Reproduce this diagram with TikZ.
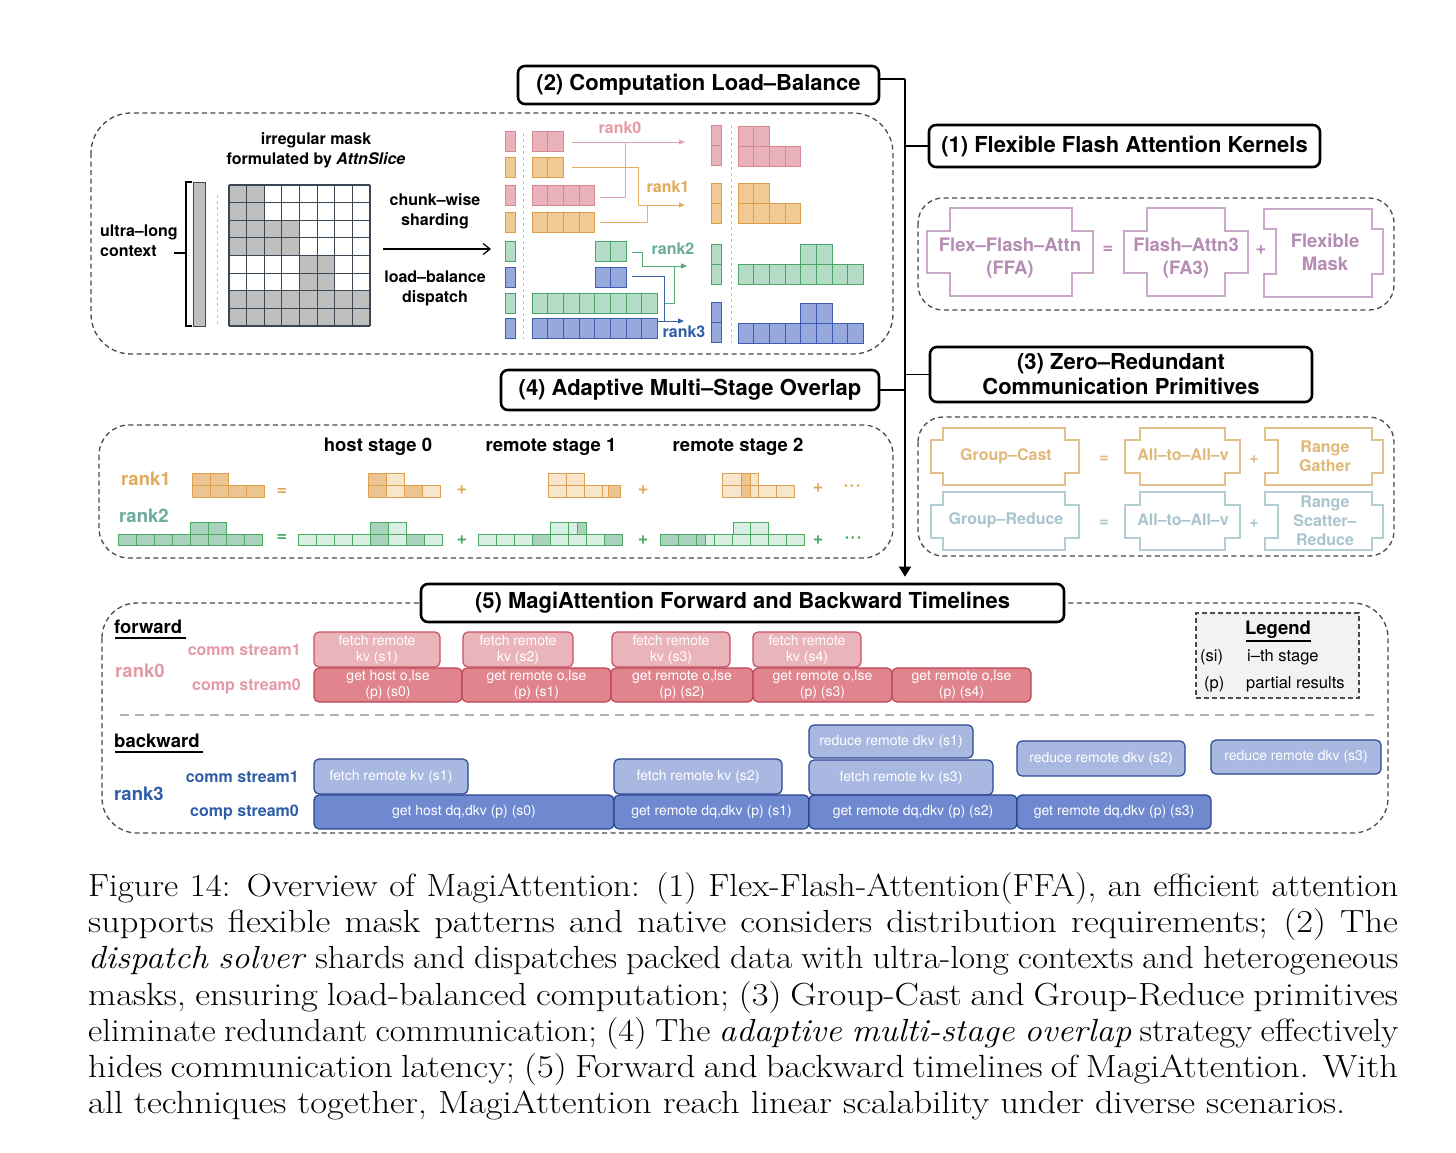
\documentclass[tikz,border=0pt]{standalone}
\usepackage{fontspec}
\usepackage{graphicx}
\newfontfamily\hv{TeX Gyre Heros}
\usetikzlibrary{arrows.meta,calc}
\newcommand{\fsz}[2]{\fontsize{#1}{#2}\selectfont}
\newcommand{\capline}[1]{\scalebox{1.14}[1]{\makebox[1149pt][s]{#1}}}
\newcommand{\caplinen}[1]{\scalebox{1.09}[1]{\makebox[1202pt][s]{#1}}}
\definecolor{panelc}{HTML}{4A4A4A}
\definecolor{pkF}{HTML}{EAB3BB}\definecolor{pkB}{HTML}{D68894}
\definecolor{orF}{HTML}{F0C995}\definecolor{orB}{HTML}{D9A048}
\definecolor{grF}{HTML}{B5DCC6}\definecolor{grB}{HTML}{4BA468}
\definecolor{blF}{HTML}{97A8DC}\definecolor{blB}{HTML}{3F5CB3}
\definecolor{pkT}{HTML}{E39AA5}\definecolor{orT}{HTML}{E3A95A}
\definecolor{tlT}{HTML}{6AAB9B}\definecolor{blT}{HTML}{2F5EA8}
\definecolor{pkA}{HTML}{E2A3AD}\definecolor{orA}{HTML}{E6B063}
\definecolor{grA}{HTML}{5AAA78}\definecolor{blA}{HTML}{3A62A8}
\definecolor{maskg}{HTML}{BFBFBF}\definecolor{gridc}{HTML}{3C4756}
\definecolor{ffaT}{HTML}{B48CB4}\definecolor{ffaB}{HTML}{C9A9C9}
\definecolor{gcT}{HTML}{E0B878}\definecolor{gcB}{HTML}{E2C08C}
\definecolor{grT}{HTML}{A8C4CC}\definecolor{grdB}{HTML}{B4CDD3}
\definecolor{oDk}{HTML}{EBC48F}\definecolor{oLt}{HTML}{F7E6CC}\definecolor{oBd}{HTML}{DCA050}
\definecolor{gDk}{HTML}{A8D2BC}\definecolor{gLt}{HTML}{DAEFE3}\definecolor{gBd}{HTML}{4AAA60}
\definecolor{fcommc}{HTML}{EAB4BB}\definecolor{fcompc}{HTML}{E0848E}
\definecolor{fbord}{HTML}{C7525F}\definecolor{fbord2}{HTML}{BC4655}
\definecolor{bcommc}{HTML}{A9B8E1}\definecolor{bcompc}{HTML}{6F89D0}
\definecolor{bbord}{HTML}{2B4690}
\definecolor{legF}{HTML}{F2F2F2}
\newcommand{\cellrow}[6]{\foreach \ci in {1,...,#3} {\draw[#6] ({#1+(\ci-1)*#4},#2) rectangle ++(#4,#5);}}
\newcommand{\crossshape}[9]{\draw[#1] (#3,#6)--(#4,#6)--(#4,#7)--(#5,#7)--(#5,#8)--(#4,#8)--(#4,#9)--(#3,#9)--(#3,#8)--(#2,#8)--(#2,#7)--(#3,#7)--cycle;}
% style, xl, xnotch, xr, xtab, y1,y2,y3,y4
\newcommand{\tabshape}[9]{\draw[#1] (#2,#6)--(#4,#6)--(#4,#7)--(#5,#7)--(#5,#8)--(#4,#8)--(#4,#9)--(#2,#9)--(#2,#8)--(#3,#8)--(#3,#7)--(#2,#7)--cycle;}
\begin{document}
\begin{tikzpicture}[x=1pt,y=-1pt,font=\hv,
  panel/.style={draw=panelc,line width=1.3pt,dash pattern=on 5pt off 3.5pt},
  hdr/.style={draw=black,line width=2.6pt,rounded corners=7pt,fill=white,font=\hv\bfseries\fsz{22}{25},align=center,inner sep=0pt},
  conn/.style={draw=black,line width=1.6pt},
  lbl/.style={font=\hv\bfseries\fsz{16}{20},align=center,inner sep=0pt},
  pkC/.style={draw=pkB,fill=pkF,line width=1pt},
  orC/.style={draw=orB,fill=orF,line width=1pt},
  grC/.style={draw=grB,fill=grF,line width=1pt},
  blC/.style={draw=blB,fill=blF,line width=1pt},
  arrw/.style={line width=1pt,-{Triangle[length=6pt,width=5pt]}},
  lnw/.style={line width=1pt},
  ffaS/.style={draw=ffaB,line width=1.5pt},
  gcS/.style={draw=gcB,line width=1.5pt},
  grS/.style={draw=grdB,line width=1.5pt},
  ffatxt/.style={text=ffaT,font=\hv\bfseries\fsz{18.5}{23},align=center,inner sep=0pt},
  gctxt/.style={text=gcT,font=\hv\bfseries\fsz{16}{19},align=center,inner sep=0pt},
  grtxt/.style={text=grT,font=\hv\bfseries\fsz{16}{19},align=center,inner sep=0pt},
  ocell/.style={draw=oBd,line width=1pt},
  gcell/.style={draw=gBd,line width=1pt},
  stg/.style={font=\hv\bfseries\fsz{18.5}{22},inner sep=0pt},
  rk/.style={font=\hv\bfseries\fsz{18.5}{22},inner sep=0pt},
  sym/.style={font=\hv\bfseries\fsz{18}{22},inner sep=0pt},
  tlbase/.style={rounded corners=5pt,line width=1.2pt,text=white,font=\hv\fsz{14}{16},align=center,inner sep=0pt},
  fcomm/.style={tlbase,draw=fbord,fill=fcommc},
  fcomp/.style={tlbase,draw=fbord2,fill=fcompc},
  bcomm/.style={tlbase,draw=bbord,fill=bcommc},
  bcomp/.style={tlbase,draw=bbord,fill=bcompc},
  strm/.style={font=\hv\bfseries\fsz{16}{19},inner sep=0pt},
  legtxt/.style={font=\hv\fsz{16.5}{19},inner sep=0pt},
  captext/.style={font=\rmfamily\fsz{32}{36},inner sep=0pt}]
\useasboundingbox (0,0) rectangle (1456,1152);
\fill[white] (0,0) rectangle (1456,1152);

% ---------- panels ----------
\draw[panel,rounded corners=40pt] (91,113) rectangle (893,354);
\draw[panel,rounded corners=25pt] (918,198) rectangle (1394,310);
\draw[panel,rounded corners=25pt] (918,417) rectangle (1394,556);
\draw[panel,rounded corners=30pt] (99,425) rectangle (893,558);
\draw[panel,rounded corners=35pt] (102,603) rectangle (1388,833);

% ---------- headers ----------
\node[hdr,minimum width=361pt,minimum height=38pt] (h2) at (698.5,85) {(2) Computation Load–Balance};
\node[hdr,minimum width=391pt,minimum height=42pt] (h1) at (1124.5,146) {(1) Flexible Flash Attention Kernels};
\node[hdr,minimum width=382pt,minimum height=55pt] (h3) at (1121,374.5) {(3) Zero–Redundant\\Communication Primitives};
\node[hdr,minimum width=378pt,minimum height=40pt] (h4) at (690,390) {(4) Adaptive Multi–Stage Overlap};
\node[hdr,minimum width=643pt,minimum height=38pt] (h5) at (742.5,603) {(5) MagiAttention Forward and Backward Timelines};
\coordinate (sp0) at (905,79);
\draw[conn] (h2.east |- sp0) -- (sp0);
\draw[conn,-{Triangle[length=10pt,width=12pt]},shorten >=6pt] (sp0) -- (h5.north -| sp0);
\draw[conn] (sp0 |- h1.west) -- (h1.west);
\draw[conn] (h4.east) -- (sp0 |- h4.east);
\draw[conn] (sp0 |- h3.west) -- (h3.west);

% ---------- panel 1: mask ----------
\node[lbl] (irr) at (316,150) {irregular mask\\formulated by \textit{AttnSlice}};
\node[lbl,align=left,anchor=west] (ulc) at (100,241) {ultra–long\\context};
\draw[line width=1.3pt] (174,253) -- (186,253);
\draw[line width=1.3pt] (192,182) -- (186,182) -- (186,326) -- (192,326);
\draw[draw=gridc,fill=maskg,line width=1pt] (193,182) rectangle (205,326);
\draw[gray!50,line width=0.8pt,dashed] (217,195) -- (217,325);
\foreach \r/\cols in {0/{0,1},1/{0,1},2/{0,1,2,3},3/{0,1,2,3},4/{4,5},5/{4,5},6/{0,1,2,3,4,5,6,7},7/{0,1,2,3,4,5,6,7}} {
  \foreach \c in \cols {\fill[maskg] ({229+\c*17.625},{185+\r*17.625}) rectangle ++(17.625,17.625);}}
\foreach \i in {0,...,8} {\draw[gridc,line width=1.2pt] ({229+\i*17.625},185) -- ++(0,141);
  \draw[gridc,line width=1.2pt] (229,{185+\i*17.625}) -- ++(141,0);}
\node[lbl] (cws) at (435,211) {chunk–wise\\sharding};
\node[lbl] (lbd) at (435,288) {load–balance\\dispatch};
\coordinate (aS) at (383,249); \coordinate (aE) at (491,249);
\draw[line width=1.2pt,-{Straight Barb[length=7pt,width=11pt]}] (aS) -- (aE);

% ---------- panel 1: chunks ----------
\draw[pkC] (505,131) rectangle ++(10,20);
\draw[orC] (505,157) rectangle ++(10,20);
\draw[pkC] (505,185) rectangle ++(10,20);
\draw[orC] (505,212) rectangle ++(10,20);
\draw[grC] (505,241) rectangle ++(10,20);
\draw[blC] (505,267) rectangle ++(10,20);
\draw[grC] (505,293) rectangle ++(10,20);
\draw[blC] (505,318) rectangle ++(10,20);
\draw[gray!50,line width=0.8pt,dashed] (523,133) -- (523,339);
\cellrow{532}{131}{2}{15.7}{20}{pkC}
\cellrow{532}{157}{2}{15.7}{20}{orC}
\cellrow{532}{185}{4}{15.7}{20}{pkC}
\cellrow{532}{212}{4}{15.7}{20}{orC}
\cellrow{595}{241}{2}{15.7}{20}{grC}
\cellrow{595}{267}{2}{15.7}{20}{blC}
\cellrow{532}{293}{8}{15.7}{20}{grC}
\cellrow{532}{318}{8}{15.7}{20}{blC}
% arrows
\draw[pkA,arrw] (572,142) -- (685,142);
\draw[pkA,lnw] (600,197) -| (625,142);
\draw[orA,arrw] (572,167) -| (638,205) -- (685,205);
\draw[orA,lnw] (600,222) -| (647,205);
\draw[grA,arrw] (632,252) -| (642,266) -- (687,266);
\draw[grA,lnw] (664,303) -| (674,266);
\draw[blA,arrw] (632,276) -| (664,321) -- (684,321);
\draw[blA,lnw] (657,321) -- (664,321);
\node[lbl,text=pkT] (r0) at (620,128) {rank0};
\node[lbl,text=orT] (r1) at (668,187) {rank1};
\node[lbl,text=tlT] (r2) at (673,249) {rank2};
\node[lbl,text=blT] (r3) at (684,332) {rank3};
% outputs
\cellrow{711}{125}{1}{10}{20}{pkC}\cellrow{711}{145}{1}{10}{20}{pkC}
\cellrow{711}{183}{1}{10}{20}{orC}\cellrow{711}{203}{1}{10}{20}{orC}
\cellrow{711}{244}{1}{10}{20}{grC}\cellrow{711}{264}{1}{10}{20}{grC}
\cellrow{711}{302}{1}{10}{20}{blC}\cellrow{711}{322}{1}{10}{20}{blC}
\draw[gray!50,line width=0.8pt,dashed] (731,125) -- (731,343);
\cellrow{738}{126}{2}{15.7}{20}{pkC}\cellrow{738}{146}{4}{15.7}{20}{pkC}
\cellrow{738}{183}{2}{15.7}{20}{orC}\cellrow{738}{203}{4}{15.7}{20}{orC}
\cellrow{800.8}{244}{2}{15.7}{20}{grC}\cellrow{738}{264}{8}{15.7}{20}{grC}
\cellrow{800.8}{303}{2}{15.7}{20}{blC}\cellrow{738}{323}{8}{15.7}{20}{blC}

% ---------- FFA panel ----------
\crossshape{ffaS}{927}{950}{1072}{1093}{208}{231}{273}{296}
\crossshape{ffaS}{1124}{1147}{1225}{1248}{208}{231}{273}{296}
\tabshape{ffaS}{1264}{1276}{1372}{1383}{209}{229}{274}{297}
\node[ffatxt] (ffa) at (1010,258) {Flex–Flash–Attn\\(FFA)};
\node[ffatxt] (eq1) at (1108,250) {=};
\node[ffatxt] (fa3) at (1186,258) {Flash–Attn3\\(FA3)};
\node[ffatxt] (pl1) at (1261,250) {+};
\node[ffatxt] (fm) at (1325,252) {Flexible\\Mask};

% ---------- comm panel ----------
\crossshape{gcS}{931}{943}{1065}{1079}{428}{440}{473}{485}
\crossshape{gcS}{1125}{1140}{1225}{1240}{428}{440}{473}{485}
\tabshape{gcS}{1265}{1278}{1372}{1383}{428}{440}{473}{485}
\crossshape{grS}{931}{943}{1065}{1079}{492}{505}{538}{550}
\crossshape{grS}{1125}{1140}{1225}{1240}{492}{505}{538}{550}
\tabshape{grS}{1265}{1278}{1372}{1383}{492}{505}{538}{550}
\node[gctxt] (gc) at (1006,456) {Group–Cast};
\node[gctxt] (eq2) at (1104,459) {=};
\node[gctxt] (a2a1) at (1183,455) {All–to–All–v};
\node[gctxt] (pl2) at (1254,460) {+};
\node[gctxt] (rg) at (1325,456) {Range\\Gather};
\node[grtxt] (grd) at (1006,520) {Group–Reduce};
\node[grtxt] (eq3) at (1104,523) {=};
\node[grtxt] (a2a2) at (1183,520) {All–to–All–v};
\node[grtxt] (pl3) at (1254,524) {+};
\node[grtxt] (rsr) at (1325,521) {Range\\Scatter–\\Reduce};

% ---------- overlap panel ----------
\node[stg] (hs0) at (378,447) {host stage 0};
\node[stg] (rs1) at (551,447) {remote stage 1};
\node[stg] (rs2) at (738,447) {remote stage 2};
\node[rk,text=orT,anchor=west] (or1) at (121,479) {rank1};
\node[rk,text=tlT,anchor=west] (or2) at (119,516) {rank2};
% rank1 row
\foreach \x/\w/\f in {192/18/oDk,210/18/oDk} {\draw[ocell,fill=\f] (\x,473) rectangle ++(\w,12);}
\foreach \x/\w/\f in {192/18/oDk,210/18/oDk,228/18/oDk,246/18/oDk} {\draw[ocell,fill=\f] (\x,485) rectangle ++(\w,12);}
\foreach \x/\w/\f in {368/18/oDk,386/18/oLt} {\draw[ocell,fill=\f] (\x,473) rectangle ++(\w,12);}
\foreach \x/\w/\f in {368/18/oDk,386/18/oLt,404/18/oDk,422/18/oLt} {\draw[ocell,fill=\f] (\x,485) rectangle ++(\w,12);}
\foreach \x/\w/\f in {548/18/oLt,566/18/oLt} {\draw[ocell,fill=\f] (\x,473) rectangle ++(\w,12);}
\foreach \x/\w/\f in {548/18/oLt,566/18/oLt,584/18/oLt,602/6/oLt,608/12/oDk} {\draw[ocell,fill=\f] (\x,485) rectangle ++(\w,12);}
\foreach \x/\w/\f in {722/19/oLt,741/9/oDk,750/8/oLt} {\draw[ocell,fill=\f] (\x,473) rectangle ++(\w,12);}
\foreach \x/\w/\f in {722/19/oLt,741/9/oDk,750/8/oLt,758/18/oLt,776/18/oLt} {\draw[ocell,fill=\f] (\x,485) rectangle ++(\w,12);}
% rank2 row
\foreach \x/\w/\f in {190/18/gDk,208/18/gDk} {\draw[gcell,fill=\f] (\x,522) rectangle ++(\w,12);}
\foreach \x/\w/\f in {118/18/gDk,136/18/gDk,154/18/gDk,172/18/gDk,190/18/gDk,208/18/gDk,226/18/gDk,244/18/gDk} {\draw[gcell,fill=\f] (\x,534) rectangle ++(\w,11);}
\foreach \x/\w/\f in {370/18/gDk,388/18/gLt} {\draw[gcell,fill=\f] (\x,522) rectangle ++(\w,12);}
\foreach \x/\w/\f in {298/18/gLt,316/18/gLt,334/18/gLt,352/18/gLt,370/18/gDk,388/18/gLt,406/18/gDk,424/18/gLt} {\draw[gcell,fill=\f] (\x,534) rectangle ++(\w,11);}
\foreach \x/\w/\f in {550/18/gLt,568/9/gLt,577/9/gDk} {\draw[gcell,fill=\f] (\x,522) rectangle ++(\w,12);}
\foreach \x/\w/\f in {478/18/gLt,496/18/gLt,514/18/gLt,532/18/gDk,550/18/gLt,568/18/gLt,586/18/gLt,604/18/gDk} {\draw[gcell,fill=\f] (\x,534) rectangle ++(\w,11);}
\foreach \x/\w/\f in {733/17.5/gLt,750.5/17.5/gLt} {\draw[gcell,fill=\f] (\x,522) rectangle ++(\w,12);}
\foreach \x/\w/\f in {660/18/gDk,678/18/gDk,696/9/gDk,705/9/gLt,714/18/gLt,732/18/gLt,750/18/gLt,768/18/gLt,786/18/gLt} {\draw[gcell,fill=\f] (\x,534) rectangle ++(\w,11);}
\node[sym,text=orT] (oe1) at (282,492) {=};
\node[sym,text=orT] (op1) at (462,490) {+};
\node[sym,text=orT] (op2) at (643,490) {+};
\node[sym,text=orT] (op3) at (818,488) {+};
\node[sym,text=orT] (od1) at (852,488) {·\kern1pt·\kern1pt·};
\node[sym,text=gBd] (ge1) at (282,538) {=};
\node[sym,text=gBd] (gp1) at (462,540) {+};
\node[sym,text=gBd] (gp2) at (643,540) {+};
\node[sym,text=gBd] (gp3) at (818,540) {+};
\node[sym,text=gBd] (gd1) at (853,540) {·\kern1pt·\kern1pt·};

% ---------- timelines ----------
\node[rk,anchor=west] (fwd) at (114,627) {forward};
\draw[line width=1.5pt] (115,638) -- (186,638);
\node[rk,text=pkT,anchor=west] (tr0) at (115,671) {rank0};
\node[strm,text=pkT,anchor=east] (fcs) at (301,650) {comm stream1};
\node[strm,text=pkT,anchor=east] (fps) at (301,686) {comp stream0};
\node[fcomm,minimum width=126pt,minimum height=35pt] (f1) at (377,649.5) {fetch remote\\kv (s1)};
\node[fcomm,minimum width=110pt,minimum height=35pt] (f2) at (518,649.5) {fetch remote\\kv (s2)};
\node[fcomm,minimum width=118pt,minimum height=35pt] (f3) at (671,649.5) {fetch remote\\kv (s3)};
\node[fcomm,minimum width=108pt,minimum height=35pt] (f4) at (807,649.5) {fetch remote\\kv (s4)};
\node[fcomp,minimum width=148pt,minimum height=34pt] (c0) at (388,685) {get host o,lse\\(p) (s0)};
\node[fcomp,minimum width=149pt,minimum height=34pt] (c1) at (536.5,685) {get remote o,lse\\(p) (s1)};
\node[fcomp,minimum width=142pt,minimum height=34pt] (c2) at (682,685) {get remote o,lse\\(p) (s2)};
\node[fcomp,minimum width=139pt,minimum height=34pt] (c3) at (822.5,685) {get remote o,lse\\(p) (s3)};
\node[fcomp,minimum width=139pt,minimum height=34pt] (c4) at (961.5,685) {get remote o,lse\\(p) (s4)};

\node[draw=panelc,line width=1.2pt,dash pattern=on 5pt off 3pt,fill=legF,minimum width=163pt,minimum height=85pt,inner sep=0pt] (legend) at (1277.5,655.5) {};
\node[rk] (legT) at (1278,630) {Legend};
\draw[line width=1.5pt] (1246,641) -- (1311,641);
\node[legtxt,anchor=west] (l1a) at (1200,657) {(si)};
\node[legtxt,anchor=west] (l1b) at (1247,657) {i–th stage};
\node[legtxt,anchor=west] (l2a) at (1204,684) {(p)};
\node[legtxt,anchor=west] (l2b) at (1246,684) {partial results};

\draw[gray!60,line width=2pt,dash pattern=on 9pt off 6pt] (120,715) -- (1375,715);

\node[rk,anchor=west] (bwd) at (114,741) {backward};
\draw[line width=1.5pt] (115,752) -- (203,752);
\node[rk,text=blT,anchor=west] (tr3) at (114,794) {rank3};
\node[strm,text=blT,anchor=east] (bcs) at (299,777) {comm stream1};
\node[strm,text=blT,anchor=east] (bps) at (299,812) {comp stream0};
\node[bcomm,minimum width=154pt,minimum height=35pt] (b1) at (391,776.5) {fetch remote kv (s1)};
\node[bcomm,minimum width=168pt,minimum height=35pt] (b2) at (698,776.5) {fetch remote kv (s2)};
\node[bcomm,minimum width=184pt,minimum height=35pt] (b3) at (901,777.5) {fetch remote kv (s3)};
\node[bcomm,minimum width=164pt,minimum height=33pt] (rd1) at (891,741.5) {reduce remote dkv (s1)};
\node[bcomm,minimum width=168pt,minimum height=35pt] (rd2) at (1101,758.5) {reduce remote dkv (s2)};
\node[bcomm,minimum width=170pt,minimum height=34pt] (rd3) at (1296,757) {reduce remote dkv (s3)};
\node[bcomp,minimum width=300pt,minimum height=34pt] (g0) at (464,812) {get host dq,dkv (p) (s0)};
\node[bcomp,minimum width=195pt,minimum height=34pt] (g1) at (711.5,812) {get remote dq,dkv (p) (s1)};
\node[bcomp,minimum width=208pt,minimum height=34pt] (g2) at (913,812) {get remote dq,dkv (p) (s2)};
\node[bcomp,minimum width=194pt,minimum height=34pt] (g3) at (1114,812) {get remote dq,dkv (p) (s3)};

% ---------- caption ----------
\node[captext,anchor=base west] (cap1) at (88,896) {\caplinen{Figure 14: Overview of MagiAttention: (1) Flex-Flash-Attention(FFA), an efficient attention}};
\node[captext,anchor=base west] (cap2) at (88,932) {\capline{supports flexible mask patterns and native considers distribution requirements; (2) The}};
\node[captext,anchor=base west] (cap3) at (88,968) {\caplinen{\textit{dispatch solver} shards and dispatches packed data with ultra-long contexts and heterogeneous}};
\node[captext,anchor=base west] (cap4) at (88,1005) {\capline{masks, ensuring load-balanced computation; (3) Group-Cast and Group-Reduce primitives}};
\node[captext,anchor=base west] (cap5) at (88,1041) {\caplinen{eliminate redundant communication; (4) The \textit{adaptive multi-stage overlap} strategy effectively}};
\node[captext,anchor=base west] (cap6) at (88,1077) {\capline{hides communication latency; (5) Forward and backward timelines of MagiAttention. With}};
\node[captext,anchor=base west] (cap7) at (88,1113) {\scalebox{1.14}[1]{all techniques together, MagiAttention reach linear scalability under diverse scenarios.}};
\end{tikzpicture}
\end{document}
